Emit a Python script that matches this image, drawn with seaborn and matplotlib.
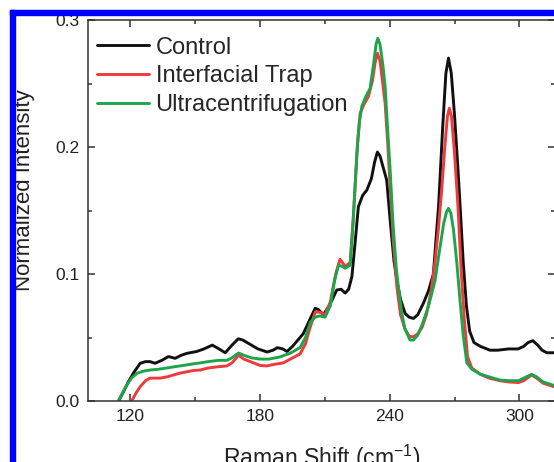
import numpy as np
import pandas as pd
import seaborn as sns
import matplotlib.pyplot as plt
from matplotlib.patches import Rectangle

sns.set_style('ticks')
plt.rcParams['font.family'] = ['Liberation Sans', 'DejaVu Sans']
plt.rcParams['mathtext.default'] = 'regular'

# ---------------------------------------------------------------------------------------
# data
# ---------------------------------------------------------------------------------------

series_names = ['Control', 'Interfacial Trap', 'Ultracentrifugation']
series_colors = ['#111111', '#ee3a3c', '#1ea54b']

control_x = [114.5, 117, 119, 121.4, 124.5, 127, 129.1, 131.4, 134.5, 137.6, 140.7, 143.5,
             146.1, 150.7, 154, 157.9, 161, 163.9, 167, 169.9, 172, 175, 179, 183.3, 186,
             188, 190.5, 192.5, 195, 197, 200, 203, 205.5, 207, 209.3, 212, 215.5, 217.5,
             219.4, 221, 222.5, 224, 225.5, 227.5, 229.4, 231.5, 233, 234.3, 235.5, 236.8,
             238.6, 240.2, 242, 243.3, 245, 247.1, 249, 251, 253, 255.6, 258, 260.2, 262.6,
             264.5, 266, 267.2, 268.5, 270, 271.5, 272.6, 274, 275.5, 277, 279, 282, 286.4,
             290, 295, 299.4, 302, 304, 306.2, 308.5, 310.5, 312.7, 316.5]
control_y = [0.0, 0.008, 0.015, 0.022, 0.0297, 0.031, 0.031, 0.0297, 0.032, 0.035, 0.0336, 0.036,
             0.0375, 0.039, 0.041, 0.044, 0.041, 0.038, 0.044, 0.049, 0.048, 0.045, 0.041, 0.0386, 0.040,
             0.042, 0.041, 0.039, 0.043, 0.047, 0.053, 0.064, 0.073, 0.072, 0.068, 0.075, 0.0874, 0.088,
             0.085, 0.088, 0.098, 0.125, 0.153, 0.162, 0.166, 0.175, 0.188, 0.196, 0.193, 0.185,
             0.174, 0.1425, 0.11, 0.095, 0.08, 0.069, 0.066, 0.065, 0.068, 0.077, 0.087, 0.10, 0.153,
             0.215, 0.258, 0.270, 0.258, 0.225, 0.185, 0.153, 0.11, 0.075, 0.055, 0.046, 0.043, 0.040,
             0.040, 0.041, 0.041, 0.043, 0.046, 0.0475, 0.044, 0.040, 0.038, 0.038]

trap_x = [120.6, 122.5, 124.5, 127, 129.1, 131.5, 133.7, 137, 139.9, 143, 146.1, 149, 152.3,
          156, 160.7, 164.6, 167, 170, 172.5, 177, 180, 183, 187, 190.7, 194, 198.5, 201, 203,
          205.5, 207.5, 210.1, 212.5, 215, 217, 219.4, 221.7, 223, 224, 225.2, 226.3, 228.2,
          230.1, 232, 233.3, 234.3, 235.5, 236.8, 237.9, 239, 240.2, 241.7, 243.3, 245, 247,
          249, 251, 253, 255, 257, 259, 261, 262.5, 264, 265.5, 266.7, 267.6, 268.6, 270,
          271.6, 273, 274.5, 276, 278, 282, 286, 291, 295, 299.6, 302, 305.7, 308, 311, 316.5]
trap_y = [0.0, 0.006, 0.0113, 0.016, 0.018, 0.018, 0.018, 0.019, 0.0205, 0.022, 0.023, 0.024, 0.0244,
          0.026, 0.027, 0.0276, 0.030, 0.036, 0.033, 0.030, 0.028, 0.0276, 0.029, 0.030, 0.033, 0.037, 0.045, 0.057,
          0.070, 0.070, 0.068, 0.078, 0.100, 0.1116, 0.106, 0.109, 0.14, 0.169, 0.205, 0.2265, 0.234,
          0.2396, 0.252, 0.267, 0.2738, 0.268, 0.25, 0.234, 0.205, 0.169, 0.125, 0.090, 0.068, 0.057,
          0.051, 0.0505, 0.053, 0.058, 0.068, 0.085, 0.11, 0.135, 0.165, 0.2, 0.224, 0.2305, 0.224, 0.195,
          0.153, 0.105, 0.065, 0.035, 0.026, 0.021, 0.018, 0.016, 0.015, 0.0145, 0.016, 0.0205, 0.018, 0.014, 0.011]

ultra_x = [114.4, 116.5, 118.3, 120.5, 123, 126, 129.1, 133, 136.8, 140.5, 144.5, 148, 152.3,
           156, 160.7, 164.6, 167, 170, 172.5, 176, 180, 184, 189, 193.9, 198.5, 201, 203.3,
           205.5, 207.5, 210.1, 212.5, 214.5, 216.3, 218, 219.4, 221.7, 223, 224.8, 226, 227.1,
           229, 230.9, 232.5, 233.7, 234.5, 235.5, 236.8, 237.9, 239, 240.2, 241.5, 243, 244,
           245.5, 247, 249.4, 251, 253, 255, 258, 261, 263, 265, 266.3, 267.2, 268.3, 269.5,
           271, 272.5, 274, 275.7, 278, 282, 286, 291, 295, 299.6, 302, 305.7, 308, 311, 316.5]
ultra_y = [0.0, 0.007, 0.0126, 0.018, 0.0218, 0.0235, 0.0244, 0.025, 0.026, 0.027, 0.028, 0.029, 0.030,
           0.031, 0.032, 0.032, 0.034, 0.0378, 0.036, 0.034, 0.033, 0.033, 0.0346, 0.0376, 0.042, 0.050, 0.062,
           0.066, 0.067, 0.066, 0.075, 0.095, 0.107, 0.106, 0.1045, 0.107, 0.14, 0.195, 0.22, 0.232,
           0.24, 0.246, 0.265, 0.281, 0.2856, 0.281, 0.265, 0.2475, 0.215, 0.182, 0.14, 0.105, 0.090,
           0.07, 0.057, 0.048, 0.048, 0.052, 0.06, 0.075, 0.095, 0.118, 0.14, 0.149, 0.1517, 0.148, 0.135,
           0.11, 0.08, 0.052, 0.03, 0.025, 0.021, 0.019, 0.0165, 0.016, 0.016, 0.018, 0.021, 0.019, 0.015, 0.012]

x_ticks = [120, 180, 240, 300]
y_ticks = [0.0, 0.1, 0.2, 0.3]

df = pd.concat([
    pd.DataFrame({'shift': control_x, 'intensity': control_y, 'sample': series_names[0]}),
    pd.DataFrame({'shift': trap_x, 'intensity': trap_y, 'sample': series_names[1]}),
    pd.DataFrame({'shift': ultra_x, 'intensity': ultra_y, 'sample': series_names[2]}),
], ignore_index=True)

# ---------------------------------------------------------------------------------------
# plot
# ---------------------------------------------------------------------------------------

W, H = 554, 462
fig = plt.figure(figsize=(W / 100, H / 100), dpi=100)
ax = fig.add_axes([88.3 / W, (H - 401) / H, (555 - 88.3) / W, 381 / H])

sns.lineplot(data=df, x='shift', y='intensity', hue='sample', hue_order=series_names,
             palette=series_colors, estimator=None, sort=False, linewidth=2.1, ax=ax)

ax.set_xlim(100.5, 316.5)
ax.set_ylim(0, 0.3)
ax.set_xticks(x_ticks)
ax.set_xticks([150, 210, 270], minor=True)
ax.set_yticks(y_ticks)
ax.set_yticks([0.05, 0.15, 0.25], minor=True)
ax.set_yticklabels(['%.1f' % v for v in y_ticks])
ax.tick_params(which='both', direction='in', top=True, right=True, width=1.1,
               color='#333333', labelsize=12.5, labelcolor='#222222')
ax.tick_params(which='major', length=5)
ax.tick_params(which='minor', length=3)
ax.tick_params(axis='y', pad=6.5)
ax.tick_params(axis='x', pad=6)
for s in ax.spines.values():
    s.set_linewidth(1.1)
    s.set_color('#333333')
    s.set_visible(True)

# the label sits partly below the crop, as in the scanned page
ax.set_xlabel('Raman Shift (cm$^{-1}$)', fontsize=16.5, color='#222222', labelpad=13)
ax.set_ylabel('')
fig.text(25 / W, 1 - 190 / H, 'Normalized Intensity', rotation=90, ha='center', va='center',
         fontsize=16, color='#222222')

sns.move_legend(ax, 'upper left', bbox_to_anchor=(0.0, 0.978), frameon=False, title=None,
                fontsize=17, handlelength=2.2, handletextpad=0.3, labelspacing=0.28,
                borderaxespad=0.0, borderpad=0.35)

# blue frame from the original page
fig.add_artist(Rectangle((10 / W, 0), 5 / W, 1 - 10 / H, transform=fig.transFigure,
                         color='#0000ff', zorder=10))
fig.add_artist(Rectangle((10 / W, 1 - 15 / H), 1, 5 / H, transform=fig.transFigure,
                         color='#0000ff', zorder=10))

fig.savefig('out.png', dpi=100)
